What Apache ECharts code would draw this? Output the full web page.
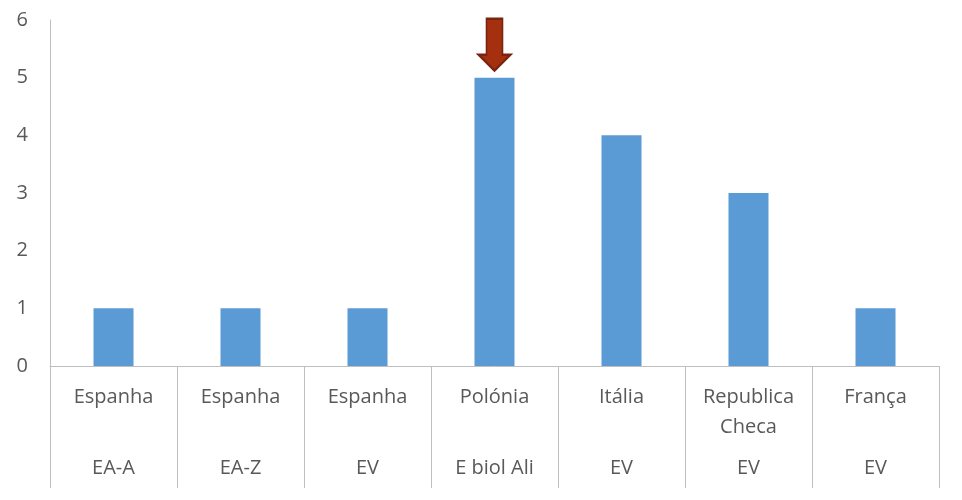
<!DOCTYPE html>
<html>
<head>
<meta charset="utf-8">
<script src="https://cdn.jsdelivr.net/npm/echarts@6/dist/echarts.min.js"></script>
<style>html,body{margin:0;padding:0;background:#fff}#c{width:962px;height:500px}</style>
</head>
<body>
<div id="c"></div>
<script>
var countries = ['Espanha', 'Espanha', 'Espanha', 'Polónia', 'Itália', 'Republica\nCheca', 'França'];
var groups = ['EA-A', 'EA-Z', 'EV', 'E biol Ali', 'EV', 'EV', 'EV'];
var values = [1, 1, 1, 5, 4, 3, 1];
var yTicks = [0, 1, 2, 3, 4, 5, 6];
var arrowIndex = 3;

var chart = echarts.init(document.getElementById('c'));
var font = '"Open Sans", "Noto Sans", sans-serif';
chart.setOption({
  animation: false,
  grid: {left: 50, right: 23, top: 20, bottom: 134},
  xAxis: [{
    type: 'category',
    data: countries,
    axisLine: {lineStyle: {color: '#bfbfbf', width: 1}},
    axisTick: {show: true, interval: 0, length: 122, lineStyle: {color: '#bfbfbf'}},
    axisLabel: {interval: 0, color: '#595959', fontSize: 20, fontFamily: font, margin: 16, lineHeight: 30, verticalAlign: 'top'}
  }, {
    type: 'category',
    data: groups,
    position: 'bottom',
    axisLine: {show: false},
    axisTick: {show: false},
    axisLabel: {interval: 0, color: '#595959', fontSize: 20, fontFamily: font, margin: 92, verticalAlign: 'top'}
  }],
  yAxis: {
    type: 'value',
    min: yTicks[0],
    max: yTicks[yTicks.length - 1],
    interval: 1,
    axisLine: {show: true, lineStyle: {color: '#bfbfbf'}},
    axisTick: {show: false},
    splitLine: {show: false},
    axisLabel: {color: '#595959', fontSize: 20, fontFamily: font, margin: 22, verticalAlign: 'middle', padding: [4, 0, 0, 0]}
  },
  series: [{
    type: 'bar',
    data: values,
    barWidth: 40,
    itemStyle: {color: '#5B9BD5'},
    markPoint: {
      symbol: 'path://M8,0 L24,0 L24,36 L32,36 L16,52 L0,36 L8,36 Z',
      symbolSize: [32, 52],
      symbolOffset: [0, -33],
      itemStyle: {color: '#A5300F', borderColor: '#7A2410', borderWidth: 2},
      label: {show: false},
      data: [{coord: [arrowIndex, values[arrowIndex]]}]
    }
  }]
});
</script>
</body>
</html>
